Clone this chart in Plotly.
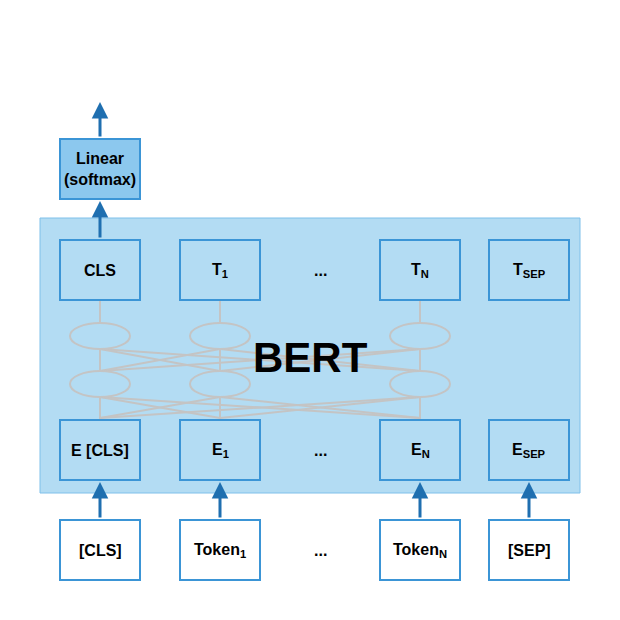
import plotly.graph_objects as go

cols_x = [100, 220, 420, 529]
top_labels = ["CLS", "T<sub>1</sub>", "T<sub>N</sub>", "T<sub>SEP</sub>"]
emb_labels = ["E [CLS]", "E<sub>1</sub>", "E<sub>N</sub>", "E<sub>SEP</sub>"]
tok_labels = ["[CLS]", "Token<sub>1</sub>", "Token<sub>N</sub>", "[SEP]"]
dots_x = 320
layer_x = [100, 220, 420]

fig = go.Figure()
shapes = []
ann = []
BLUE = "#3b95d6"
GRAY = "#c4c4c4"
ARROW = "#1f6fb0"
F = dict(family="Liberation Sans, Arial", size=16, color="#000")

shapes.append(dict(type="rect", x0=40, x1=580, y0=218, y1=493, fillcolor="#b3dcf3",
                   line=dict(color="#7fc0ea", width=1), layer="below"))

def ln(x0, y0, x1, y1):
    shapes.append(dict(type="line", x0=x0, y0=y0, x1=x1, y1=y1, line=dict(color=GRAY, width=2)))
for x in layer_x:
    ln(x, 300, x, 323)
    ln(x, 349, x, 371)
    ln(x, 397, x, 420)
for a in layer_x:
    for b in layer_x:
        if a != b:
            ln(a, 349, b, 371)
            ln(a, 397, b, 418)
for x in layer_x:
    for yc in (336, 384):
        shapes.append(dict(type="circle", x0=x-30, x1=x+30, y0=yc-13, y1=yc+13,
                           line=dict(color=GRAY, width=2), fillcolor="rgba(0,0,0,0)"))

def box(x, y0, text, fill):
    shapes.append(dict(type="rect", x0=x-40, x1=x+40, y0=y0, y1=y0+60, fillcolor=fill,
                       line=dict(color=BLUE, width=2)))
    ann.append(dict(x=x, y=y0+30, text="<b>%s</b>" % text, showarrow=False, font=F))

for x, t in zip(cols_x, top_labels):
    box(x, 240, t, "#b3dcf3")
for x, t in zip(cols_x, emb_labels):
    box(x, 420, t, "#b3dcf3")
for x, t in zip(cols_x, tok_labels):
    box(x, 520, t, "#ffffff")
box(100, 139, "Linear<br>(softmax)", "#8cc8ee")

for y in (270, 450, 550):
    ann.append(dict(x=dots_x, y=y, text="<b>...</b>", showarrow=False, font=F))
ann.append(dict(x=310, y=357, text="<b>BERT</b>", showarrow=False,
                font=dict(family="Liberation Sans, Arial", size=42, color="#000")))

def arrow(x, y0, y1):
    ann.append(dict(x=x, y=y1, ax=x, ay=y0, xref="x", yref="y", axref="x", ayref="y",
                    text="", showarrow=True, arrowhead=2, arrowsize=1.1, arrowwidth=3,
                    arrowcolor=ARROW, standoff=0))
for x in cols_x:
    arrow(x, 519, 482)
arrow(100, 239, 201)
arrow(100, 138, 102)

fig.update_layout(width=620, height=620, margin=dict(l=0, r=0, t=0, b=0),
                  plot_bgcolor="white", paper_bgcolor="white", shapes=shapes, annotations=ann,
                  xaxis=dict(range=[8, 628], visible=False, fixedrange=True),
                  yaxis=dict(range=[628, 8], visible=False, fixedrange=True),
                  showlegend=False)
fig.write_html("out.html")
